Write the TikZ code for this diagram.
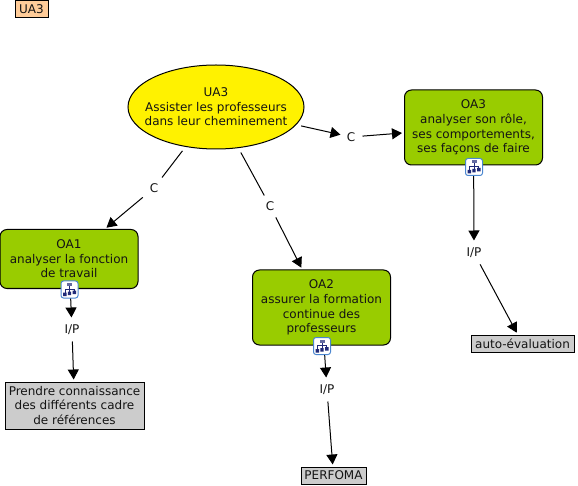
\documentclass[tikz,border=0pt]{standalone}
\usepackage{fontspec}
\setmainfont{DejaVu Sans}
\usepackage{tikz}
\usetikzlibrary{arrows.meta,shapes.geometric}
\definecolor{oagreen}{RGB}{153,204,0}
\definecolor{tagorange}{RGB}{255,204,153}
\definecolor{resgrey}{RGB}{204,204,204}
\definecolor{iconblue}{RGB}{74,134,208}
\definecolor{iconnavy}{RGB}{32,42,120}

\begin{document}
\begin{tikzpicture}[x=1pt,y=-1pt,line width=1pt,
  every node/.style={font=\fontsize{12}{14.6}\selectfont,align=center,text=black!92},
  goal/.style={draw=black,fill=yellow,ellipse,minimum width=176pt,minimum height=84pt,inner sep=0pt},
  obj/.style={draw=black,fill=oagreen,rounded corners=7pt,minimum width=138pt,inner sep=0pt},
  res/.style={draw=black,fill=resgrey,inner sep=0pt,minimum height=17pt},
  tag/.style={draw=black,fill=tagorange,inner sep=0pt,minimum width=33pt,minimum height=17pt},
  link/.style={inner sep=0pt,minimum width=20pt,minimum height=20pt,fill=none},
  iconbox/.style={draw=iconblue,fill=white,rounded corners=2.5pt,line width=1pt,
                  minimum size=17pt,inner sep=0pt},
  ar/.style={-{Triangle[length=10pt,width=11pt]},shorten >=2pt,shorten <=1pt},
  ln/.style={shorten <=5pt},
  hier/.pic={
    \fill[iconnavy!70] (-2.5,-6.5) rectangle (2.5,-3.5);
    \draw[iconnavy,line width=.7pt] (0,-3.5) -- (0,3) (-4.5,3) -- (-4.5,-.5) -- (4.5,-.5) -- (4.5,1);
    \fill[iconnavy] (-6.5,3) rectangle (-3,6.5) (-1.7,2) rectangle (1.7,5.5) (3,1) rectangle (6.5,4.5);
  }]
\useasboundingbox (0,0) rectangle (578,486);

\node[tag] (tag) at (31.5,9.5) {UA3};

\node[goal,label={center:UA3\\Assister les professeurs\\dans leur cheminement}] (ua) at (216,107) {};

\node[obj,minimum height=59pt] (oa1) at (69,259) {OA1\\analyser la fonction\\de travail};
\node[obj,minimum height=75pt] (oa2) at (321.5,307.5) {OA2\\assurer la formation\\continue des\\professeurs};
\node[obj,minimum height=75pt] (oa3) at (473.5,127.5) {OA3\\analyser son rôle,\\ses comportements,\\ses façons de faire};

\node[res,minimum width=139pt,minimum height=47pt] (ref) at (74.5,405.5) {Prendre connaissance\\des différents cadre\\de références};
\node[res,minimum width=65pt] (perf) at (333.5,475.5) {PERFOMA};
\node[res,minimum width=103pt] (auto) at (522.5,343.5) {auto-évaluation};

\node[link] (c1) at (154,188) {C};
\node[link] (c2) at (270,206) {C};
\node[link] (c3) at (351,137) {C};
\node[link] (ip1) at (72,330) {I/P};
\node[link] (ip2) at (327,390) {I/P};
\node[link] (ip3) at (474,253) {I/P};

\draw[ln] (ua) -- (c1);
\draw[ln] (ua) -- (c2);
\draw[ar,shorten <=5pt,shorten >=0pt] (ua) -- (c3);
\draw[ar] (c1) -- (oa1);
\draw[ar] (c2) -- (oa2);
\draw[ar] (c3) -- (oa3);
\foreach \a/\b in {oa1/ip1,ip1/ref,oa2/ip2,ip2/perf,oa3/ip3,ip3/auto} \draw[ar] (\a) -- (\b);

\node[iconbox] (ic1) at (69.5,289.5) {};
\node[iconbox] (ic2) at (322,346) {};
\node[iconbox] (ic3) at (474,167) {};
\foreach \i in {ic1,ic2,ic3} \pic at (\i) {hier};
\end{tikzpicture}
\end{document}
